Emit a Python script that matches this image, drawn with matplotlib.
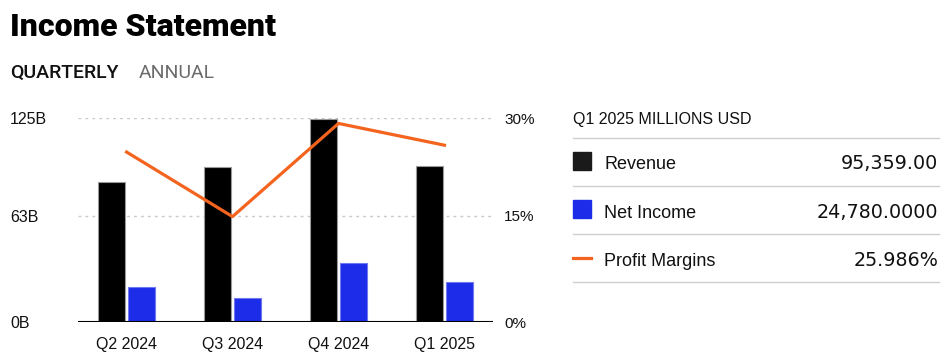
import matplotlib.pyplot as plt
import numpy as np

quarters = ["Q2 2024", "Q3 2024", "Q4 2024", "Q1 2025"]
revenue = [85.8, 94.9, 124.3, 95.4]       # billions USD
net_income = [21.4, 14.7, 36.3, 24.8]     # billions USD
profit_margin = [25.0, 15.5, 29.2, 26.0]  # percent

left_ticks = [0, 65, 125]
left_labels = ["0B", "63B", "125B"]
right_ticks = [0, 15.6, 30]
right_labels = ["0%", "15%", "30%"]

legend_names = ["Revenue", "Net Income", "Profit Margins"]
legend_values = ["95,359.00", "24,780.0000", "25.986%"]

BLACK = "#000000"
BLUE = "#1c2ce8"
ORANGE = "#f4641e"
GRID = "#c8c8c8"

W, H = 946, 363
plt.rcParams['font.family'] = ['Liberation Sans', 'DejaVu Sans']

fig = plt.figure(figsize=(W / 100, H / 100), dpi=100)


def fx(x):
    return x / W


def fy(y):
    return 1 - y / H


# title and tabs
fig.text(fx(10), fy(36), "Income Statement", fontsize=23, fontweight=900,
         family=["Roboto", "DejaVu Sans"], va="baseline", ha="left", color="#000000")
fig.text(fx(10), fy(78), "QUARTERLY", fontsize=14, fontweight="medium",
         family=["Roboto", "DejaVu Sans"], va="baseline", ha="left", color="#111111")
fig.text(fx(139), fy(78), "ANNUAL", fontsize=14,
         family=["Roboto", "DejaVu Sans"], va="baseline", ha="left", color="#6b6b6b")

# chart axes
ax_l, ax_r, ax_t, ax_b = 78, 493, 118, 322
ax = fig.add_axes([fx(ax_l), fy(ax_b), fx(ax_r - ax_l), (ax_b - ax_t) / H])
x = np.arange(len(quarters))
bw = 0.255
ax.bar(x - 0.142, revenue, bw, color=BLACK, edgecolor="#9a9a9a", linewidth=0.8, zorder=2)
ax.bar(x + 0.142, net_income, bw, color=BLUE, edgecolor="#6f78f0", linewidth=0.8, zorder=2)
ax.set_xlim(-0.458, 3.458)
ax.set_ylim(0, 125)
ax.set_yticks(left_ticks)
ax.set_yticklabels(left_labels)
ax.set_xticks(x)
ax.set_xticklabels(quarters)
for v in left_ticks[1:]:
    ax.axhline(v, color=GRID, linestyle=(0, (2, 3)), linewidth=1, zorder=1)
ax.axhline(0, color=BLACK, linewidth=1.5, zorder=3)
for s in ax.spines.values():
    s.set_visible(False)
ax.tick_params(axis="y", length=0, pad=0, labelsize=11.5, colors="#111111")
ax.tick_params(axis="x", length=0, pad=11, labelsize=11.5, colors="#111111")
for lbl in ax.get_yticklabels():
    lbl.set_horizontalalignment("left")
    lbl.set_x(-(ax_l - 10) / (ax_r - ax_l))

ax2 = ax.twinx()
ax2.plot(x, profit_margin, color=ORANGE, linewidth=2.3, zorder=4)
ax2.set_ylim(0, 30)
ax2.set_yticks(right_ticks)
ax2.set_yticklabels(right_labels)
ax2.tick_params(axis="y", length=0, pad=8, labelsize=11, colors="#111111")
for s in ax2.spines.values():
    s.set_visible(False)

# right-side legend panel
px0, px1 = 573, 938
fig.text(fx(px0), fy(124), "Q1 2025 MILLIONS USD", fontsize=11.5, va="baseline",
         ha="left", color="#111111")
for yy in [138, 186, 234, 282]:
    fig.add_artist(plt.Line2D([fx(px0), fx(px1 + 1)], [fy(yy), fy(yy)],
                              color="#cfcfcf", linewidth=1))
base_y = [169, 218, 266]
mark_y = [161, 209, 258]
for i, (name, val) in enumerate(zip(legend_names, legend_values)):
    if i < 2:
        col = "#1a1a1a" if i == 0 else BLUE
        fig.add_artist(plt.Rectangle((fx(px0), fy(mark_y[i] + 9)), fx(18), 18 / H,
                                     color=col, transform=fig.transFigure))
    else:
        fig.add_artist(plt.Line2D([fx(px0), fx(px0 + 18)], [fy(mark_y[i]), fy(mark_y[i])],
                                  color=ORANGE, linewidth=2.3))
    fig.text(fx(604), fy(base_y[i]), name, fontsize=13, va="baseline", ha="left",
             color="#111111")
    fig.text(fx(px1), fy(base_y[i]), val, fontsize=13.8, va="baseline", ha="right",
             family=["DejaVu Sans"], color="#111111")

fig.savefig("out.png", dpi=100)
